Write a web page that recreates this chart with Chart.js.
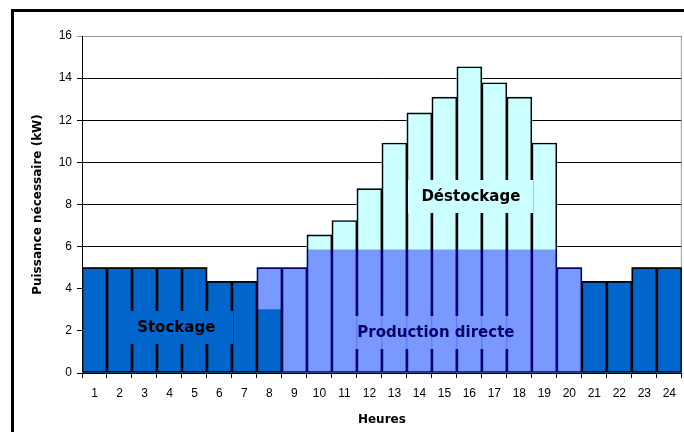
<!DOCTYPE html>
<html lang="fr">
<head>
<meta charset="utf-8">
<script src="https://cdn.jsdelivr.net/npm/chart.js@4.4.0/dist/chart.umd.min.js"></script>
<style>
  html, body { margin: 0; padding: 0; background: #fff; overflow: hidden; }
  #cadre { position: absolute; left: 11px; top: 9px; width: 720px; height: 520px; border: 3px solid #000; }
  #zone { position: absolute; left: 0; top: 0; width: 684px; height: 432px; }
</style>
</head>
<body>
<div id="cadre"></div>
<div id="zone"><canvas id="graph"></canvas></div>
<script>
// Profil journalier de puissance (kW), heure par heure
const heures = ['1','2','3','4','5','6','7','8','9','10','11','12','13','14','15','16','17','18','19','20','21','22','23','24'];
const stockage = [5, 5, 5, 5, 5, 4.35, 4.35, 3, 0, 0, 0, 0, 0, 0, 0, 0, 0, 0, 0, 0, 4.35, 4.35, 5, 5];
const productionDirecte = [0, 0, 0, 0, 0, 0, 0, 2, 5, 5.85, 5.85, 5.85, 5.85, 5.85, 5.85, 5.85, 5.85, 5.85, 5.85, 5, 0, 0, 0, 0];
const destockage = [0, 0, 0, 0, 0, 0, 0, 0, 0, 0.71, 1.39, 2.9, 5.07, 6.5, 7.25, 8.69, 7.93, 7.25, 5.07, 0, 0, 0, 0, 0];

const BLEU_FONCE = '#0066CC';
const CYAN = '#CCFFFF';
const VOILE = 'rgba(0, 0, 255, 0.4)';

const total = heures.map((h, i) => +(stockage[i] + productionDirecte[i] + destockage[i]).toFixed(2));
// la production directe est posée par-dessus, entre le stockage et le haut du palier
const voile = heures.map((h, i) => productionDirecte[i] > 0 ? [stockage[i], stockage[i] + productionDirecte[i]] : null);

// encadrés de texte, placés en coordonnées du graphique
const etiquettes = [
  { texte: 'Stockage', x: 3.27, y: 2.17, fond: BLEU_FONCE, marge: 18 },
  { texte: 'Déstockage', x: 15.06, y: 8.39, fond: CYAN, marge: 13 },
  { texte: 'Production directe', x: 13.66, y: 1.93, fond: CYAN, marge: 14 }
];

const pluginEtiquettes = {
  id: 'etiquettes',
  beforeDatasetsDraw(chart) {
    const { ctx, chartArea } = chart;
    ctx.save();
    ctx.strokeStyle = '#999';
    ctx.lineWidth = 1;
    ctx.beginPath();
    ctx.moveTo(chartArea.right - 0.5, chartArea.top);
    ctx.lineTo(chartArea.right - 0.5, chartArea.bottom);
    ctx.stroke();
    ctx.restore();
  },
  afterDatasetDraw(chart, args) {
    if (args.index !== 2) return; // juste après les contours, sous le voile
    const ctx = chart.ctx;
    const sx = chart.scales.x, sy = chart.scales.y;
    ctx.save();
    ctx.font = 'bold 15px "DejaVu Sans"';
    ctx.textAlign = 'center';
    ctx.textBaseline = 'middle';
    etiquettes.forEach(e => {
      const px = sx.getPixelForValue(e.x);
      const py = sy.getPixelForValue(e.y);
      const w = ctx.measureText(e.texte).width + 2 * e.marge;
      ctx.fillStyle = e.fond;
      ctx.fillRect(Math.round(px - w / 2), Math.round(py - 16.5), Math.round(w), 33);
      ctx.fillStyle = '#000';
      ctx.fillText(e.texte, px, py + 1);
    });
    ctx.restore();
  }
};

const ctx = document.getElementById('graph').getContext('2d');
new Chart(ctx, {
  type: 'bar',
  data: {
    labels: heures,
    datasets: [{
      label: 'Fond',
      data: total,
      backgroundColor: CYAN,
      borderWidth: 0,
      order: 3
    }, {
      label: 'Stockage',
      data: stockage,
      backgroundColor: BLEU_FONCE,
      borderWidth: 0,
      order: 2
    }, {
      label: 'Contour',
      data: total,
      backgroundColor: 'rgba(0,0,0,0)',
      borderColor: '#000',
      borderWidth: 1,
      borderSkipped: false,
      order: 1
    }, {
      label: 'Production directe',
      data: voile,
      backgroundColor: VOILE,
      borderWidth: 0,
      order: 0
    }]
  },
  options: {
    responsive: true,
    maintainAspectRatio: false,
    animation: false,
    grouped: false,
    barPercentage: 1,
    categoryPercentage: 1,
    layout: { padding: { left: 0, top: 36, right: 1, bottom: 0 } },
    plugins: {
      legend: { display: false },
      tooltip: { enabled: false }
    },
    datasets: { bar: { grouped: false } },
    scales: {
      x: {
        afterFit: (scale) => { scale.height = 59; },
        grid: { drawOnChartArea: false, offset: true, tickLength: 5, color: '#000' },
        border: { color: '#000' },
        ticks: { padding: 8, color: '#000', font: { family: '"Liberation Sans", Arial', size: 12 } },
        title: {
          display: true,
          text: 'Heures',
          color: '#000',
          padding: { bottom: 5, top: 0 },
          font: { family: '"DejaVu Sans"', size: 12, weight: 'bold' }
        }
      },
      y: {
        min: 0,
        max: 16,
        afterFit: (scale) => { scale.width = 82; },
        grid: {
          tickLength: 5,
          color: (c) => c.tick && c.tick.value === 16 ? '#999' : '#000'
        },
        border: { color: '#000' },
        ticks: { stepSize: 2, padding: 5, color: '#000', font: { family: '"Liberation Sans", Arial', size: 12 } },
        title: {
          display: true,
          text: 'Puissance nécessaire (kW)',
          color: '#000',
          padding: { top: 31, bottom: 0 },
          font: { family: '"DejaVu Sans"', size: 12, weight: 'bold' }
        }
      }
    }
  },
  plugins: [pluginEtiquettes]
});
</script>
</body>
</html>
